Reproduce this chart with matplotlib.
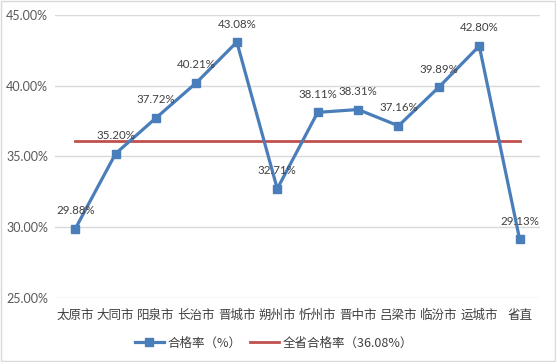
import matplotlib
matplotlib.use("Agg")
import matplotlib.pyplot as plt
from matplotlib.ticker import FuncFormatter
from matplotlib.patches import Rectangle

plt.rcParams['font.family'] = ['Noto Sans CJK SC', 'DejaVu Sans']

categories = ["太原市", "大同市", "阳泉市", "长治市", "晋城市", "朔州市", "忻州市",
              "晋中市", "吕梁市", "临汾市", "运城市", "省直"]
rates = [29.88, 35.20, 37.72, 40.21, 43.08, 32.71, 38.11, 38.31, 37.16, 39.89, 42.80, 29.13]
province_rate = 36.08
series_names = ["合格率（%）", "全省合格率（36.08%）"]
yticks = [25, 30, 35, 40, 45]

fig = plt.figure(figsize=(5.56, 3.62), dpi=100)
ax = fig.add_axes([0.099, 0.177, 0.872, 0.782])

x = list(range(len(categories)))
blue = "#4A7EBB"
red = "#C0504D"

ax.plot(x, rates, color=blue, lw=2.3, marker="s", markersize=6.3,
        markerfacecolor=blue, markeredgecolor=blue, label=series_names[0], zorder=3)
ax.plot(x, [province_rate] * len(x), color=red, lw=2.0, label=series_names[1], zorder=2)

for xi, v in zip(x, rates):
    ax.annotate(f"{v:.2f}%", (xi, v), xytext=(0, 9), textcoords="offset points",
                ha="center", va="bottom", fontsize=8.3, color="#404040",
                family=['Lato', 'DejaVu Sans'])

ax.set_xlim(-0.5, len(categories) - 0.5)
ax.set_ylim(25, 45)
ax.set_yticks(yticks)
ax.yaxis.set_major_formatter(FuncFormatter(lambda v, p: f"{v:.2f}%"))
ax.set_xticks(x)
ax.set_xticklabels(categories)
ax.grid(axis="y", color="#D9D9D9", lw=1)
ax.set_axisbelow(True)
for s in ax.spines.values():
    s.set_visible(False)
ax.tick_params(axis="both", length=0, colors="#595959", labelsize=8.5)
ax.tick_params(axis="x", pad=8, labelsize=9, colors="#404040")
ax.tick_params(axis="y", pad=5)
for lbl in ax.get_yticklabels():
    lbl.set_family(['Lato', 'DejaVu Sans'])
    lbl.set_fontsize(9)

leg = fig.legend(loc="center", bbox_to_anchor=(0.493, 0.052), ncol=2, frameon=False,
                 fontsize=9, handlelength=2.3, handletextpad=0.3, columnspacing=0.7)
for t in leg.get_texts():
    t.set_color("#404040")

fig.patches.append(Rectangle((0.002, 0.003), 0.996, 0.994, transform=fig.transFigure,
                             fill=False, edgecolor="#D9D9D9", lw=1))

fig.savefig("out.png", dpi=100)
